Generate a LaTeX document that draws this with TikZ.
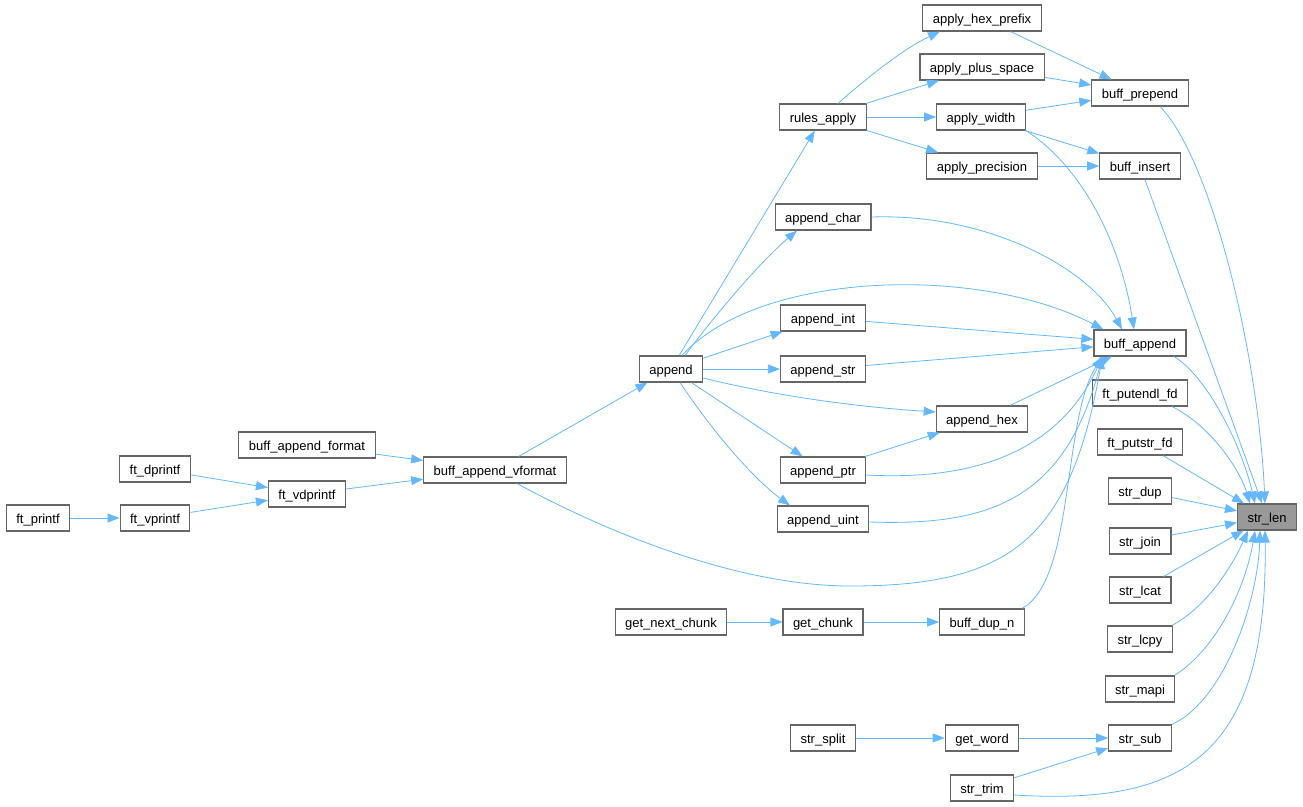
\documentclass[tikz,border=0pt]{standalone}
\usepackage{fontspec}
\setmainfont{Liberation Sans}
\usetikzlibrary{arrows.meta}
\definecolor{edgeblue}{HTML}{63B8FF}
\definecolor{boxline}{HTML}{666666}
\definecolor{rootfill}{HTML}{999999}
\begin{document}
\begin{tikzpicture}[x=1pt,y=-1pt,
    call/.style={draw=edgeblue,line width=.8pt,-{Triangle[length=12pt,width=9pt]}}]
      \useasboundingbox (0,0) rectangle (1303,806);

      \begin{scope}[every node/.style={draw=boxline,line width=1.1pt,fill=white,
          minimum height=26pt,inner xsep=10pt,inner ysep=0pt,
          text height=12pt,text depth=2pt,
          font=\fontsize{13}{15}\selectfont}]
        \node (ftprintf)       at (38,518)   {ft\_printf};
        \node (ftvprintf)      at (155,518)  {ft\_vprintf};
        \node (ftdprintf)      at (155,469)  {ft\_dprintf};
        \node (ftvdprintf)     at (307,494)  {ft\_vdprintf};
        \node (appendformat)   at (307,445)  {buff\_append\_format};
        \node (vformat)        at (495,470)  {buff\_append\_vformat};
        \node (append)         at (671,369)  {append};
        \node (getnextchunk)   at (671,622)  {get\_next\_chunk};
        \node (rulesapply)     at (823,117)  {rules\_apply};
        \node (appendchar)     at (823,217)  {append\_char};
        \node (appendint)      at (823,318)  {append\_int};
        \node (appendstr)      at (823,369)  {append\_str};
        \node (appendptr)      at (823,470)  {append\_ptr};
        \node (appenduint)     at (823,519)  {append\_uint};
        \node (getchunk)       at (823,622)  {get\_chunk};
        \node (strsplit)       at (823,738)  {str\_split};
        \node (applyhexprefix) at (982,18)   {apply\_hex\_prefix};
        \node (applyplusspace) at (982,67)   {apply\_plus\_space};
        \node (applywidth)     at (981,117)  {apply\_width};
        \node (applyprecision) at (982,166)  {apply\_precision};
        \node (appendhex)      at (982,419)  {append\_hex};
        \node (buffdupn)       at (982,622)  {buff\_dup\_n};
        \node (getword)        at (982,738)  {get\_word};
        \node (strtrim)        at (982,788)  {str\_trim};
        \node (buffprepend)    at (1140,93)  {buff\_prepend};
        \node (buffinsert)     at (1140,166) {buff\_insert};
        \node (buffappend)     at (1140,343) {buff\_append};
        \node (ftputendlfd)    at (1140,393) {ft\_putendl\_fd};
        \node (ftputstrfd)     at (1140,442) {ft\_putstr\_fd};
        \node (strdup)         at (1140,491) {str\_dup};
        \node (strjoin)        at (1140,541) {str\_join};
        \node (strlcat)        at (1140,590) {str\_lcat};
        \node (strlcpy)        at (1140,639) {str\_lcpy};
        \node (strmapi)        at (1140,689) {str\_mapi};
        \node (strsub)         at (1140,738) {str\_sub};
        \node (strlen) [fill=rootfill] at (1267,517) {str\_len};
      \end{scope}

      \begin{scope}[every edge/.style={call}]
        \path (ftprintf)       edge (ftvprintf);
        \path (ftvprintf)      edge (ftvdprintf);
        \path (ftdprintf)      edge (ftvdprintf);
        \path (ftvdprintf)     edge (vformat);
        \path (appendformat)   edge (vformat);
        \path (vformat)        edge (append);
        \path (append)         edge (rulesapply);
        \path (append)         edge (appendint);
        \path (append)         edge (appendstr);
        \path (append)         edge (appendptr);
        \path (rulesapply)     edge (applyplusspace);
        \path (rulesapply)     edge (applywidth);
        \path (rulesapply)     edge (applyprecision);
        \path (applyhexprefix) edge (buffprepend);
        \path (applyplusspace) edge (buffprepend);
        \path (applywidth)     edge (buffprepend);
        \path (applywidth)     edge (buffinsert);
        \path (applyprecision) edge (buffinsert);
        \path (appendint)      edge (buffappend);
        \path (appendstr)      edge (buffappend);
        \path (appendhex)      edge (buffappend);
        \path (appendptr)      edge (appendhex);
        \path (getnextchunk)   edge (getchunk);
        \path (getchunk)       edge (buffdupn);
        \path (strsplit)       edge (getword);
        \path (getword)        edge (strsub);
        \path (strtrim)        edge (strsub);
        \path (buffinsert)     edge (strlen);
        \path (ftputstrfd)     edge (strlen);
        \path (strdup)         edge (strlen);
        \path (strjoin)        edge (strlen);
        \path (strlcat)        edge (strlen);
      \end{scope}

      % curved calls
      \draw[call] ([xshift=22pt]vformat.south) .. controls (640,550) and (760,586) .. (850,586)
        .. controls (1010,586) and (1070,540) .. ([xshift=9pt]buffappend.south west);
      \draw[call] ([xshift=11pt]append.north) .. controls (760,270) and (980,265) .. ([xshift=10pt]buffappend.north west);
      \draw[call] ([xshift=14pt]append.north) .. controls (715,315) and (760,262) .. ([xshift=-26pt]appendchar.south);
      \draw[call] ([yshift=-9pt]append.east) .. controls (780,397) and (860,407) .. ([yshift=7pt]appendhex.west);
      \draw[call] ([xshift=9pt]append.south) .. controls (715,435) and (755,480) .. ([xshift=-33pt]appenduint.north);
      \draw[call] ([xshift=15pt]rulesapply.north) .. controls (870,75) and (905,48) .. ([xshift=-42pt]applyhexprefix.south);
      \draw[call] (appendchar.east) .. controls (990,213) and (1090,270) .. ([xshift=-18pt]buffappend.north);
      \draw[call] (applywidth.south east) .. controls (1080,165) and (1120,240) .. ([xshift=-6pt]buffappend.north);
      \draw[call] ([yshift=-5pt]appendptr.east) .. controls (960,480) and (1055,460) .. ([xshift=9pt]buffappend.south west);
      \draw[call] ([yshift=-3pt]appenduint.east) .. controls (990,526) and (1065,500) .. ([xshift=9pt]buffappend.south west);
      \draw[call] ([xshift=-3pt]buffdupn.north east) .. controls (1075,580) and (1062,420) .. ([xshift=9pt]buffappend.south west);
      \draw[call] ([xshift=20pt]buffprepend.south) .. controls (1210,157) and (1258,350) .. ([xshift=-2pt]strlen.north);
      \draw[call] ([xshift=34pt]buffappend.south) .. controls (1205,375) and (1240,440) .. ([xshift=-12pt]strlen.north);
      \draw[call] ([xshift=32pt]ftputendlfd.south) .. controls (1210,425) and (1240,470) .. ([xshift=-17pt]strlen.north);
      \draw[call] ([xshift=-1pt]strlcpy.north east) .. controls (1210,605) and (1235,560) .. ([xshift=-19pt]strlen.south);
      \draw[call] ([xshift=-1pt]strmapi.north east) .. controls (1215,650) and (1245,590) .. ([xshift=-12pt]strlen.south);
      \draw[call] (strsub.north east) .. controls (1225,700) and (1258,600) .. ([xshift=-7pt]strlen.south);
      \draw[call] ([yshift=-7pt]strtrim.east) .. controls (1180,805) and (1268,760) .. ([xshift=-2pt]strlen.south);

    \end{tikzpicture}
\end{document}
